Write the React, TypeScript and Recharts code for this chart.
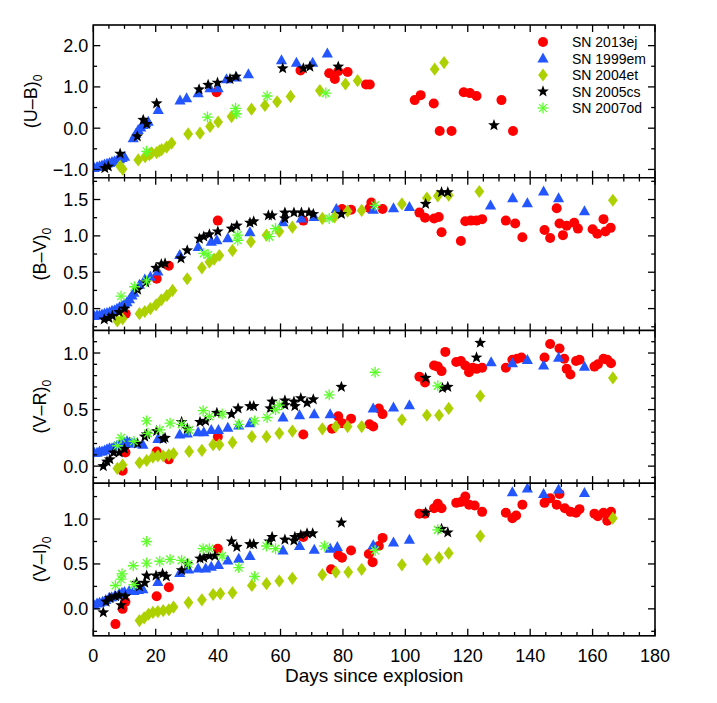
import React from 'react';
import { ScatterChart, Scatter, XAxis, YAxis } from 'recharts';

type P = [number, number];

// ---------- data: (day, colour) ----------
const ub13ej: P[] = [[39.5,0.87],[66.4,1.40],[75.6,1.33],[77.4,1.19],[78.5,1.38],[81.5,1.36],[87.4,1.06],[88.6,1.06],[103.0,0.68],[104.9,0.80],[109.1,0.60],[111.0,-0.07],[114.8,-0.07],[118.7,0.87],[120.7,0.85],[122.8,0.78],[130.8,0.68],[134.5,-0.07]];
const ub99em: P[] = [[0.3,-0.96],[1.2,-0.94],[2.0,-0.92],[2.8,-0.9],[3.6,-0.88],[4.4,-0.86],[5.2,-0.84],[6.0,-0.82],[6.8,-0.8],[7.6,-0.78],[8.4,-0.75],[9.2,-0.72],[10.0,-0.69],[12.8,-0.24],[13.6,-0.14],[14.4,-0.04],[15.2,0.02],[16.0,0.08],[16.8,0.12],[17.6,0.16],[20.8,0.44],[27.8,0.67],[29.9,0.73],[33.6,0.85],[37.4,0.97],[40.0,0.97],[42.7,1.19],[45.9,1.23],[49.7,1.31],[60.3,1.65],[65.1,1.59],[70.3,1.59],[75.0,1.81]];
const ub04et: P[] = [[8.6,-0.92],[9.4,-0.99],[14.4,-0.77],[16.6,-0.69],[18.0,-0.64],[18.7,-0.6],[20.3,-0.59],[21.2,-0.55],[21.9,-0.52],[23.5,-0.46],[25.1,-0.36],[30.4,-0.14],[34.2,-0.12],[37.4,0.04],[40.0,0.15],[44.3,0.28],[50.7,0.46],[55.0,0.55],[58.9,0.64],[63.2,0.77],[72.6,0.91],[80.8,1.07],[84.7,1.15],[109.4,1.43],[112.4,1.59]];
const ub05cs: P[] = [[3.7,-0.97],[4.8,-0.93],[8.6,-0.62],[14.1,-0.2],[16.0,0.2],[17.1,0.1],[20.3,0.6],[33.9,0.94],[36.8,1.05],[39.8,1.1],[43.8,1.19],[45.7,1.25],[60.7,1.45],[67.3,1.45],[69.4,1.49],[78.5,1.49],[128.4,0.07]];
const ub07od: P[] = [[17.1,-0.56],[36.6,0.27],[45.6,0.48],[45.9,0.35],[55.7,0.78],[74.5,0.85]];

const bv13ej: P[] = [[10.4,-0.07],[20.3,0.41],[24.2,0.59],[39.9,1.21],[67.3,1.21],[79.7,1.37],[82.6,1.36],[88.5,1.38],[89.1,1.46],[92.7,1.37],[104.5,1.32],[106.3,1.25],[109.2,1.24],[110.7,1.26],[111.6,1.05],[117.8,0.93],[119.2,1.2],[121.0,1.21],[122.8,1.21],[124.6,1.23],[132.2,1.21],[135.2,1.17],[137.5,0.98],[144.6,1.08],[146.4,0.97],[148.5,1.38],[149.4,1.17],[150.5,1.01],[151.7,1.14],[154.1,1.18],[155.3,1.1],[160.0,1.09],[161.5,1.03],[163.5,1.23],[164.1,1.06],[165.8,1.11]];
const bv99em: P[] = [[0.3,-0.1],[1.2,-0.09],[2.0,-0.09],[2.8,-0.08],[3.6,-0.07],[4.4,-0.06],[5.2,-0.05],[6.0,-0.03],[6.8,-0.02],[7.6,0.0],[8.4,0.02],[9.2,0.04],[10.0,0.06],[10.8,0.09],[11.6,0.13],[12.4,0.18],[13.0,0.22],[14.8,0.33],[16.5,0.4],[18.3,0.44],[20.7,0.51],[27.7,0.74],[33.6,0.85],[37.8,0.92],[39.6,0.94],[43.1,0.97],[50.2,1.05],[60.8,1.19],[66.7,1.24],[70.8,1.26],[77.9,1.37],[89.7,1.36],[96.2,1.38],[101.3,1.4],[127.3,1.42],[134.4,1.52],[139.1,1.45],[144.3,1.61],[149.1,1.52],[157.4,1.34]];
const bv04et: P[] = [[7.7,-0.17],[9.4,-0.14],[14.8,-0.07],[16.5,-0.04],[18.3,0.0],[20.1,0.05],[21.8,0.12],[23.6,0.18],[25.4,0.25],[30.1,0.41],[34.8,0.56],[37.2,0.64],[38.7,0.68],[40.4,0.73],[44.6,0.8],[50.5,0.92],[55.5,1.01],[59.6,1.06],[63.8,1.12],[73.4,1.24],[77.3,1.26],[81.5,1.34],[86.0,1.35],[98.9,1.44],[106.9,1.52],[110.4,1.55],[113.9,1.56],[123.7,1.61],[166.5,1.49]];
const bv05cs: P[] = [[3.5,-0.15],[5.0,-0.13],[6.1,-0.1],[8.3,-0.05],[10.0,0.0],[14.2,0.26],[16.8,0.36],[20.1,0.56],[21.8,0.61],[23.0,0.62],[28.1,0.69],[30.1,0.8],[34.0,0.96],[35.4,0.99],[37.2,1.02],[39.9,1.06],[44.3,1.1],[46.0,1.14],[50.2,1.18],[51.4,1.2],[56.1,1.28],[57.3,1.28],[61.4,1.32],[61.4,1.24],[64.3,1.32],[66.7,1.32],[69.1,1.32],[70.5,1.3],[79.5,1.3],[106.5,1.44],[111.6,1.6],[113.6,1.6]];
const bv07od: P[] = [[8.9,0.17],[13.2,0.3],[17.1,0.38],[35.4,0.76],[36.8,0.74],[46.3,1.01],[46.3,0.94],[56.4,0.99],[58.4,1.1],[75.6,1.24],[90.3,1.42]];

const vr13ej: P[] = [[9.4,-0.04],[10.3,0.12],[20.3,0.13],[24.2,0.06],[39.9,0.26],[67.3,0.28],[76.5,0.33],[78.5,0.44],[79.7,0.38],[82.6,0.42],[88.5,0.37],[89.7,0.35],[91.5,0.51],[92.7,0.46],[104.5,0.79],[106.3,0.74],[109.2,0.89],[110.4,0.88],[111.6,0.84],[112.8,1.01],[116.3,0.92],[117.8,0.93],[119.2,0.89],[120.4,0.83],[121.6,0.87],[122.8,0.86],[124.6,0.87],[132.2,0.87],[134.3,0.94],[135.8,0.95],[137.2,0.96],[144.6,0.96],[146.4,1.08],[149.4,1.04],[150.9,0.95],[151.7,0.86],[152.9,0.81],[154.7,0.93],[155.8,0.94],[160.6,0.88],[161.7,0.9],[163.5,0.95],[164.7,0.94],[165.9,0.91]];
const vr99em: P[] = [[0.3,0.12],[1.2,0.12],[2.0,0.13],[2.8,0.13],[3.6,0.14],[4.4,0.15],[5.2,0.16],[6.0,0.16],[6.8,0.17],[7.6,0.18],[8.4,0.19],[9.2,0.2],[10.0,0.21],[10.8,0.22],[11.6,0.21],[12.4,0.2],[13.2,0.2],[15.9,0.19],[20.7,0.24],[27.7,0.28],[30.1,0.29],[33.6,0.3],[35.4,0.3],[37.8,0.32],[40.1,0.32],[43.1,0.34],[46.6,0.36],[50.2,0.38],[60.8,0.43],[66.1,0.45],[70.8,0.46],[75.9,0.46],[89.7,0.51],[96.2,0.52],[101.3,0.54],[127.5,0.92],[134.3,0.91],[139.1,0.94],[144.3,0.89],[149.1,0.96],[157.4,0.88]];
const vr04et: P[] = [[7.7,-0.02],[9.4,0.01],[14.8,0.03],[17.1,0.05],[19.1,0.08],[20.7,0.09],[22.4,0.09],[24.2,0.1],[25.7,0.11],[30.7,0.13],[34.8,0.14],[38.4,0.19],[40.4,0.19],[44.6,0.21],[50.8,0.26],[55.5,0.26],[59.6,0.29],[63.8,0.31],[73.4,0.33],[77.7,0.35],[81.5,0.35],[86.0,0.35],[98.9,0.41],[106.9,0.45],[110.8,0.45],[113.9,0.51],[124.0,0.62],[166.5,0.78]];
const vr05cs: P[] = [[3.2,0.0],[4.4,0.04],[5.3,0.06],[6.5,0.12],[8.3,0.12],[10.0,0.15],[14.2,0.2],[16.5,0.26],[17.1,0.28],[20.3,0.31],[22.4,0.24],[23.0,0.25],[28.3,0.39],[30.1,0.33],[34.2,0.39],[36.0,0.4],[39.6,0.47],[44.3,0.46],[46.4,0.51],[50.2,0.53],[51.4,0.53],[56.7,0.51],[57.3,0.57],[61.4,0.58],[61.4,0.54],[64.3,0.57],[64.6,0.53],[66.5,0.6],[68.5,0.56],[70.5,0.59],[79.5,0.7],[106.5,0.78],[111.9,0.69],[113.6,0.7],[122.8,0.96],[124.0,1.09]];
const vr07od: P[] = [[7.7,0.18],[8.9,0.25],[13.0,0.22],[17.1,0.4],[17.5,0.29],[21.3,0.32],[24.6,0.38],[28.3,0.37],[30.7,0.32],[35.2,0.49],[37.2,0.44],[41.3,0.46],[46.6,0.37],[51.7,0.4],[55.7,0.43],[58.4,0.5],[59.6,0.54],[75.6,0.63],[90.3,0.83],[110.4,0.71]];

const vi13ej: P[] = [[7.1,-0.17],[9.4,0.0],[10.3,0.08],[20.3,0.14],[24.2,0.24],[39.9,0.67],[67.3,0.8],[76.2,0.44],[78.5,0.6],[79.7,0.57],[82.6,0.65],[88.3,0.61],[89.5,0.52],[91.5,0.7],[92.7,0.79],[104.5,1.06],[106.3,1.06],[109.2,1.12],[110.4,1.17],[111.6,1.12],[116.3,1.18],[117.8,1.19],[119.2,1.25],[120.4,1.16],[122.2,1.15],[124.6,1.08],[132.2,1.07],[134.3,1.01],[135.5,1.04],[137.5,1.16],[144.6,1.18],[146.4,1.23],[148.5,1.16],[149.4,1.28],[151.1,1.12],[152.9,1.08],[154.7,1.07],[155.8,1.11],[160.6,1.06],[161.7,1.03],[163.5,1.07],[164.7,0.98],[165.9,1.08]];
const vi99em: P[] = [[0.3,0.04],[1.2,0.06],[2.0,0.07],[3.0,0.08],[4.0,0.1],[5.0,0.12],[5.9,0.13],[7.0,0.15],[8.3,0.17],[9.2,0.18],[10.0,0.19],[11.5,0.2],[13.0,0.2],[14.5,0.21],[15.9,0.22],[20.7,0.3],[27.7,0.4],[30.5,0.44],[33.6,0.45],[36.0,0.45],[37.8,0.47],[40.1,0.49],[43.1,0.54],[46.6,0.56],[50.2,0.59],[60.8,0.65],[66.1,0.7],[70.8,0.66],[75.9,0.67],[78.2,0.69],[89.7,0.71],[96.2,0.74],[101.3,0.77],[134.3,1.3],[139.1,1.34],[144.3,1.28],[149.1,1.33],[157.4,1.29]];
const vi04et: P[] = [[14.8,-0.13],[16.3,-0.1],[17.7,-0.06],[19.1,-0.04],[20.7,-0.03],[22.4,-0.02],[24.2,-0.01],[25.7,0.02],[30.5,0.07],[34.8,0.1],[38.4,0.16],[40.7,0.17],[44.6,0.18],[50.8,0.26],[55.5,0.28],[59.6,0.31],[63.8,0.34],[73.4,0.38],[77.7,0.41],[81.7,0.41],[86.0,0.44],[98.9,0.49],[106.9,0.55],[110.8,0.57],[113.9,0.62],[124.0,0.81],[166.5,1.01]];
const vi05cs: P[] = [[3.2,-0.04],[4.1,0.08],[5.3,0.12],[7.1,0.14],[8.3,0.15],[8.9,0.04],[10.3,0.14],[13.9,0.29],[14.8,0.25],[16.5,0.29],[17.1,0.37],[20.1,0.37],[22.2,0.39],[23.4,0.36],[28.3,0.43],[30.1,0.5],[34.2,0.56],[35.4,0.57],[37.2,0.59],[39.0,0.59],[44.3,0.75],[46.0,0.69],[50.2,0.72],[51.4,0.72],[56.4,0.75],[57.3,0.8],[61.4,0.77],[64.3,0.76],[64.6,0.8],[66.5,0.82],[68.5,0.84],[70.3,0.84],[79.5,0.96],[106.5,1.07],[111.6,0.89],[113.6,0.85]];
const vi07od: P[] = [[7.1,0.26],[8.9,0.33],[9.2,0.39],[12.8,0.48],[13.0,0.27],[17.1,0.75],[17.1,0.51],[21.3,0.53],[24.6,0.55],[28.3,0.54],[30.5,0.5],[35.2,0.67],[37.2,0.67],[41.3,0.59],[46.6,0.46],[51.7,0.36],[55.5,0.7],[58.4,0.67],[74.1,0.7],[90.3,0.65],[110.4,0.88]];

const xTicks = [0,5,10,15,20,25,30,35,40,45,50,55,60,65,70,75,80,85,90,95,100,105,110,115,120,125,130,135,140,145,150,155,160,165,170,175,180];
const xMajors = [0,20,40,60,80,100,120,140,160,180];
const ubTicks = [-1.0,-0.5,0.0,0.5,1.0,1.5,2.0];
const ubMajors = [-1.0,0.0,1.0,2.0];
const bvTicks = [-0.25,0.0,0.25,0.5,0.75,1.0,1.25,1.5,1.75];
const bvMajors = [0.0,0.5,1.0,1.5];
const vrTicks = [-0.1,0.0,0.1,0.2,0.3,0.4,0.5,0.6,0.7,0.8,0.9,1.0,1.1];
const vrMajors = [0.0,0.5,1.0];
const viTicks = [-0.25,0.0,0.25,0.5,0.75,1.0,1.25];
const viMajors = [0.0,0.5,1.0];

const seriesNames = ['SN 2013ej','SN 1999em','SN 2004et','SN 2005cs','SN 2007od'];

// ---------- layout ----------
const W = 717, H = 703;
const L = 93.3, R = 655;
const FONT = '"Liberation Sans", Arial, Helvetica, sans-serif';
const RED = '#ff0000', BLUE = '#2456ff', YG = '#add100', BLACK = '#000000', GREEN = '#5dff2b';

const toPts = (a: P[]) => a.map(([x, y]) => ({ x, y }));

// ---------- marker shapes ----------
const Circ = ({ cx, cy }: any) => <circle cx={cx} cy={cy} r={5} fill={RED} />;
const Tri = ({ cx, cy }: any) => (
  <polygon points={`${cx},${cy - 5.9} ${cx - 5.6},${cy + 4.1} ${cx + 5.6},${cy + 4.1}`} fill={BLUE} />
);
const Dia = ({ cx, cy }: any) => (
  <polygon points={`${cx},${cy - 6.6} ${cx + 4.9},${cy} ${cx},${cy + 6.6} ${cx - 4.9},${cy}`} fill={YG} />
);
const Star = ({ cx, cy }: any) => {
  const pts: string[] = [];
  for (let i = 0; i < 10; i++) {
    const r = i % 2 === 0 ? 6.2 : 2.6;
    const a = -Math.PI / 2 + (i * Math.PI) / 5;
    pts.push(`${cx + r * Math.cos(a)},${cy + r * Math.sin(a)}`);
  }
  return <polygon points={pts.join(' ')} fill={BLACK} />;
};
const Ast = ({ cx, cy }: any) => {
  const r = 5.5;
  const d = r * Math.SQRT1_2;
  return (
    <g stroke={GREEN} strokeWidth={1.3}>
      <line x1={cx - r} y1={cy} x2={cx + r} y2={cy} />
      <line x1={cx} y1={cy - r} x2={cx} y2={cy + r} />
      <line x1={cx - d} y1={cy - d} x2={cx + d} y2={cy + d} />
      <line x1={cx - d} y1={cy + d} x2={cx + d} y2={cy - d} />
    </g>
  );
};
const shapes = [Circ, Tri, Dia, Star, Ast];

// ---------- panels ----------
const panels = [
  { top: 25, bottom: 177.7, domain: [-1.2, 2.5], ticks: ubTicks, majors: ubMajors, label: '(U\u2013B)', labelX: 37, data: [ub13ej, ub99em, ub04et, ub05cs, ub07od] },
  { top: 177.7, bottom: 330.4, domain: [-0.3, 1.8], ticks: bvTicks, majors: bvMajors, label: '(B\u2013V)', labelX: 46, data: [bv13ej, bv99em, bv04et, bv05cs, bv07od] },
  { top: 330.4, bottom: 483.1, domain: [-0.15, 1.2], ticks: vrTicks, majors: vrMajors, label: '(V\u2013R)', labelX: 46, data: [vr13ej, vr99em, vr04et, vr05cs, vr07od] },
  { top: 483.1, bottom: 635.8, domain: [-0.3, 1.4], ticks: viTicks, majors: viMajors, label: '(V\u2013I)', labelX: 46, data: [vi13ej, vi99em, vi04et, vi05cs, vi07od] },
];

const isIn = (v: number, arr: number[]) => arr.some((m) => Math.abs(m - v) < 1e-6);
const fmt = (v: number) => (v < 0 ? '\u2212' + Math.abs(v).toFixed(1) : v.toFixed(1));

const XTick = (props: any) => {
  const { x, payload, top, bottom, showLabel } = props;
  const major = isIn(payload.value, xMajors);
  const len = major ? 7 : 3.8;
  return (
    <g>
      <line x1={x} x2={x} y1={bottom} y2={bottom - len} stroke="#000" strokeWidth={1.3} />
      <line x1={x} x2={x} y1={top} y2={top + len} stroke="#000" strokeWidth={1.3} />
      {showLabel && major && (
        <text x={x} y={662} textAnchor="middle" fontSize={18} fontFamily={FONT} fill="#000">
          {String(payload.value)}
        </text>
      )}
    </g>
  );
};

const YTick = (props: any) => {
  const { y, payload, majors } = props;
  const major = isIn(payload.value, majors);
  const len = major ? 7 : 3.8;
  return (
    <g>
      <line x1={L} x2={L + len} y1={y} y2={y} stroke="#000" strokeWidth={1.3} />
      <line x1={R} x2={R - len} y1={y} y2={y} stroke="#000" strokeWidth={1.3} />
      {major && (
        <text x={L - 5} y={y} dy="0.36em" textAnchor="end" fontSize={18} fontFamily={FONT} fill="#000">
          {fmt(payload.value)}
        </text>
      )}
    </g>
  );
};

const Panel = ({ p, idx }: any) => {
  const xAxisH = 20;
  const yAxisW = 60;
  const margin = { top: p.top, bottom: H - p.bottom - xAxisH, left: L - yAxisW, right: W - R };
  return (
    <div style={{ position: 'absolute', left: 0, top: 0, width: W, height: H }}>
      <ScatterChart width={W} height={H} margin={margin}>
        <XAxis
          type="number"
          dataKey="x"
          domain={[0, 180]}
          ticks={xTicks}
          interval={0}
          height={xAxisH}
          axisLine={false}
          tickLine={false}
          allowDataOverflow
          tick={(tp: any) => <XTick {...tp} top={p.top} bottom={p.bottom} showLabel={idx === 3} />}
        />
        <YAxis
          type="number"
          dataKey="y"
          domain={p.domain}
          ticks={p.ticks}
          interval={0}
          width={yAxisW}
          axisLine={false}
          tickLine={false}
          allowDataOverflow
          tick={(tp: any) => <YTick {...tp} majors={p.majors} />}
        />
        {p.data.map((d: P[], i: number) => {
          const S = shapes[i];
          return (
            <Scatter
              key={seriesNames[i]}
              name={seriesNames[i]}
              data={toPts(d)}
              isAnimationActive={false}
              shape={(sp: any) => <S cx={sp.cx} cy={sp.cy} />}
            />
          );
        })}
      </ScatterChart>
    </div>
  );
};

export default function App() {
  const legendY = [42, 58.5, 75, 91.5, 108];
  return (
    <div style={{ position: 'absolute', left: 0, top: 0, width: W, height: H, background: '#fff', overflow: 'hidden' }}>
      {panels.map((p, i) => (
        <Panel key={i} p={p} idx={i} />
      ))}
      <svg width={W} height={H} style={{ position: 'absolute', left: 0, top: 0, pointerEvents: 'none' }}>
        <rect x={L} y={25} width={R - L} height={635.8 - 25} fill="none" stroke="#000" strokeWidth={1.6} />
        {[177.7, 330.4, 483.1].map((y) => (
          <line key={y} x1={L} x2={R} y1={y} y2={y} stroke="#000" strokeWidth={1.6} />
        ))}
        {panels.map((p, i) => {
          const cy = (p.top + p.bottom) / 2;
          return (
            <text
              key={i}
              transform={`translate(${p.labelX},${cy}) rotate(-90)`}
              textAnchor="middle"
              fontSize={18}
              fontFamily={FONT}
              fill="#000"
            >
              {p.label}
              <tspan fontSize={12} dy={5}>0</tspan>
            </text>
          );
        })}
        <text x={(L + R) / 2} y={682} textAnchor="middle" fontSize={19} fontFamily={FONT} fill="#000">
          Days since explosion
        </text>
        {seriesNames.map((n, i) => {
          const S = shapes[i];
          return (
            <g key={n}>
              <S cx={543} cy={legendY[i]} />
              <text x={572} y={legendY[i] + 5} fontSize={14} fontFamily={FONT} fill="#000">
                {n}
              </text>
            </g>
          );
        })}
      </svg>
    </div>
  );
}
